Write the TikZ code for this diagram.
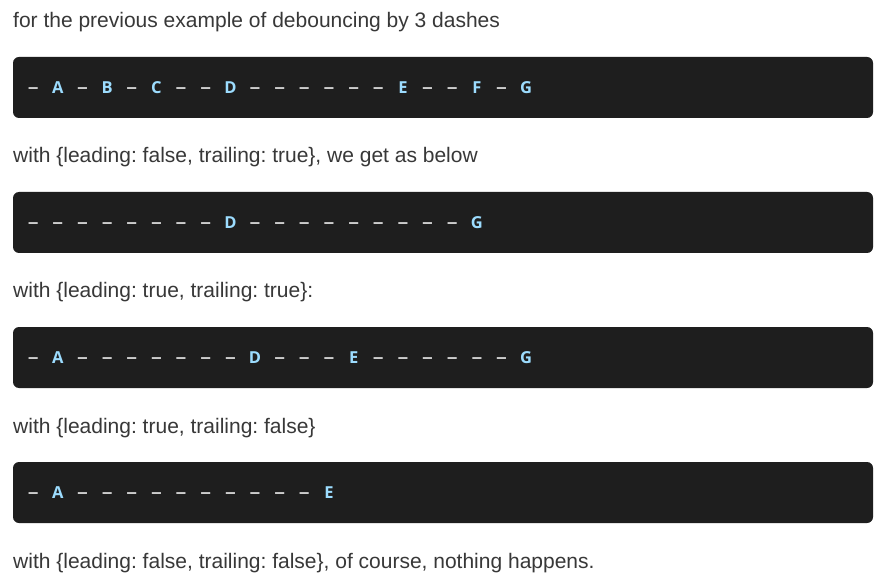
\documentclass[tikz,border=0pt]{standalone}
\usepackage{fontspec}
\setmainfont{Liberation Sans}
\newfontfamily\codefont{Open Sans}
\newfontfamily\dashfont{Liberation Sans}
\frenchspacing
\definecolor{bodytext}{HTML}{383838}
\definecolor{codebg}{HTML}{1E1E1E}
\definecolor{codeletter}{HTML}{9CDCFE}
\definecolor{codedash}{HTML}{D4D4D4}
\def\dashmark{-}
\newcommand\mycodeline[3]{%
  \foreach \t [count=\j from 0] in {#3} {%
    \edef\cur{\t}%
    \ifx\cur\dashmark
      \node[dashtok] (#1-\j) at ({33.2+24.65*\j},#2+5.9) {–};
    \else
      \node[lettok] (#1-\j) at ({33.2+24.65*\j},#2+5.9) {\t};
    \fi
  }}
\tikzset{
  para/.style={anchor=base west, inner sep=0pt, text=bodytext, font=\fontsize{21}{25}\selectfont},
  codeblock/.style={fill=codebg, draw=none, rounded corners=6pt},
  lettok/.style={inner sep=0pt, anchor=base, text=codeletter, font=\codefont\bfseries\fontsize{16.5}{18}\selectfont},
  dashtok/.style={inner sep=0pt, anchor=base, text=codedash, font=\dashfont\bfseries\fontsize{18.5}{20}\selectfont},
}
\begin{document}
\begin{tikzpicture}[x=1pt,y=-1pt]
\useasboundingbox (0,0) rectangle (883,577);
\fill[white] (0,0) rectangle (883,577);

\node[para] (p1) at (13,28) {for the previous example of debouncing by 3 dashes};
\node[para] (p2) at (13,163) {with \{leading: false, trailing: true\}, we get as below};
\node[para] (p3) at (13,298) {with \{leading: true, trailing: true\}:};
\node[para] (p4) at (13,433) {with \{leading: true, trailing: false\}};
\node[para] (p5) at (13,568) {with \{leading: false, trailing: false\}, of course, nothing happens.};

\path[codeblock] (13,57) rectangle (873,118);
\path[codeblock] (13,192) rectangle (873,253);
\path[codeblock] (13,327) rectangle (873,388);
\path[codeblock] (13,462) rectangle (873,523);

\mycodeline{a}{87.5}{-,A,-,B,-,C,-,-,D,-,-,-,-,-,-,E,-,-,F,-,G}
\mycodeline{b}{222.5}{-,-,-,-,-,-,-,-,D,-,-,-,-,-,-,-,-,-,G}
\mycodeline{c}{357.5}{-,A,-,-,-,-,-,-,-,D,-,-,-,E,-,-,-,-,-,-,G}
\mycodeline{d}{492.5}{-,A,-,-,-,-,-,-,-,-,-,-,E}
\end{tikzpicture}
\end{document}
